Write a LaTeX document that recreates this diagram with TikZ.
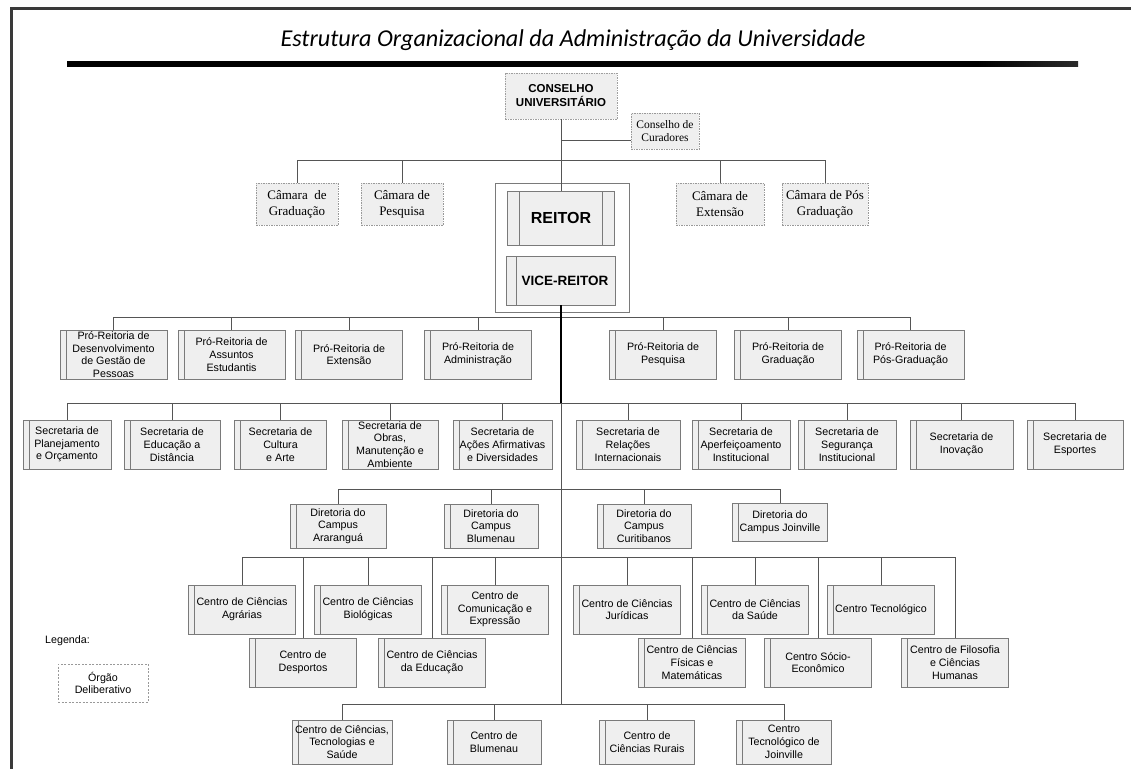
\documentclass[tikz,border=0pt]{standalone}
\usepackage{fontspec}
\setmainfont{Liberation Sans}
\newfontfamily\timesf{Liberation Serif}
\newfontfamily\calib{Carlito}
\usepackage{graphicx}
\pgfdeclarehorizontalshading{barshade}{100bp}{color(0bp)=(black); color(70bp)=(black); color(100bp)=(white)}
\definecolor{boxline}{HTML}{7A7A7A}
\definecolor{boxfill}{HTML}{EFEFEF}
\definecolor{conncol}{HTML}{555555}
\definecolor{framec}{HTML}{3A3A3A}
\tikzset{
  unit/.style={draw=boxline, fill=boxfill, line width=0.6pt, minimum width=#1, minimum height=49pt,
    inner sep=0pt, align=center, font=\fontsize{10.7}{12.7}\selectfont,
    path picture={\draw[boxline,line width=0.6pt] ([xshift=6pt]path picture bounding box.north west) -- ([xshift=6pt]path picture bounding box.south west);}},
  unit/.default=107pt,
  delib/.style={draw=gray!80, fill=boxfill, line width=0.6pt, dash pattern=on 1.5pt off 1pt,
    minimum width=#1, minimum height=42pt, inner sep=0pt, align=center,
    font=\timesf\fontsize{13}{16}\selectfont},
  delib/.default=82pt,
  conn/.style={draw=conncol, line width=0.7pt},
  trunk/.style={draw=black, line width=2.4pt},
}
\begin{document}
\begin{tikzpicture}[x=1pt,y=-1pt]
\useasboundingbox (0,0) rectangle (1131,769);
% frame
\draw[framec, line width=3pt] (1131,8) -- (11,8) -- (11,769);
% title
\node (title) at (573,40) {\resizebox{585pt}{!}{\calib\itshape Estrutura Organizacional da Administração da Universidade}};
\shade[shading=barshade] (67,61) rectangle (1078,66);

% top
\node[draw=gray!75, fill=boxfill, line width=0.6pt, dash pattern=on 1.5pt off 1pt, minimum width=112pt,
  minimum height=46pt, inner sep=0pt, align=center, font=\bfseries\fontsize{11.5}{14}\selectfont] (cu) at (561,96) {CONSELHO\\UNIVERSITÁRIO};
\node[delib=68pt, minimum height=36pt, font=\timesf\fontsize{11.5}{13.5}\selectfont] (cur) at (665,131) {Conselho de\\Curadores};

\node[delib] (cam1) at (297,204) {Câmara\ \ de\\Graduação};
\node[delib] (cam2) at (402,204) {Câmara de\\Pesquisa};
\node[delib=88pt] (cam3) at (720,204) {Câmara de\\Extensão};
\node[delib=86pt] (cam4) at (825,204) {Câmara de Pós\\Graduação};

\node[draw=boxline, line width=0.7pt, minimum width=134pt, minimum height=129pt, inner sep=0pt] (reit) at (562,247.5) {};
\node[draw=boxline, fill=boxfill, line width=0.6pt, minimum width=107pt, minimum height=54pt, inner sep=0pt,
  font=\bfseries\fontsize{16}{19}\selectfont,
  path picture={\draw[boxline,line width=0.6pt] ([xshift=12pt]path picture bounding box.north west) -- ([xshift=12pt]path picture bounding box.south west);
    \draw[boxline,line width=0.6pt] ([xshift=-12pt]path picture bounding box.north east) -- ([xshift=-12pt]path picture bounding box.south east);}] (reitor) at (561,218) {REITOR};
\node[draw=boxline, fill=boxfill, line width=0.6pt, minimum width=109pt, minimum height=49pt, inner sep=0pt,
  font=\bfseries\fontsize{13.5}{16}\selectfont,
  path picture={\draw[boxline,line width=0.6pt] ([xshift=10pt]path picture bounding box.north west) -- ([xshift=10pt]path picture bounding box.south west);}] (vice) at (561,280.5) {\hspace*{8pt}VICE-REITOR};

% Pro-Reitorias
\node[unit] (pr1) at (113.5,354.5) {Pró-Reitoria de\\Desenvolvimento\\de Gestão de\\Pessoas};
\node[unit] (pr2) at (231.5,354.5) {Pró-Reitoria de\\Assuntos\\Estudantis};
\node[unit] (pr3) at (349,354.5) {Pró-Reitoria de\\Extensão};
\node[unit] (pr4) at (478,354.5) {Pró-Reitoria de\\Administração};
\node[unit] (pr5) at (663,354.5) {Pró-Reitoria de\\Pesquisa};
\node[unit] (pr6) at (788,354.5) {Pró-Reitoria de\\Graduação};
\node[unit] (pr7) at (910.5,354.5) {Pró-Reitoria de\\Pós-Graduação};

% Secretarias
\node[unit=88pt] (s1) at (67,444.5) {Secretaria de\\Planejamento\\e Orçamento};
\node[unit=96pt] (s2) at (172,444.5) {Secretaria de\\Educação a\\Distância};
\node[unit=92pt] (s3) at (280.5,444.5) {Secretaria de\\Cultura\\e Arte};
\node[unit=96pt] (s4) at (390,444.5) {Secretaria de\\Obras,\\Manutenção e\\Ambiente};
\node[unit=99pt] (s5) at (502.5,444.5) {Secretaria de\\Ações Afirmativas\\e Diversidades};
\node[unit=104pt] (s6) at (628,444.5) {Secretaria de\\Relações\\Internacionais};
\node[unit=98pt] (s7) at (741,444.5) {Secretaria de\\Aperfeiçoamento\\Institucional};
\node[unit=98pt] (s8) at (847,444.5) {Secretaria de\\Segurança\\Institucional};
\node[unit=103pt] (s9) at (961.5,444.5) {Secretaria de\\Inovação};
\node[unit=96pt] (s10) at (1075,444.5) {Secretaria de\\Esportes};

% Diretorias
\node[unit=96pt, minimum height=44pt] (d1) at (338,526) {Diretoria do\\Campus\\Araranguá};
\node[unit=94pt, minimum height=44pt] (d2) at (491,526) {Diretoria do\\Campus\\Blumenau};
\node[unit=94pt, minimum height=44pt] (d3) at (644,526) {Diretoria do\\Campus\\Curitibanos};
\node[unit=95pt, minimum height=38pt] (d4) at (780,522) {Diretoria do\\Campus Joinville};

% Centros row A
\node[unit] (ca) at (242,609.5) {Centro de Ciências\\Agrárias};
\node[unit] (cb) at (368,609.5) {Centro de Ciências\\Biológicas};
\node[unit] (cc) at (495,609.5) {Centro de\\Comunicação e\\Expressão};
\node[unit] (cj) at (627,609.5) {Centro de Ciências\\Jurídicas};
\node[unit] (cs) at (755,609.5) {Centro de Ciências\\da Saúde};
\node[unit] (ct) at (881,609.5) {Centro Tecnológico};
% row B
\node[unit] (cd) at (303,662.5) {Centro de\\Desportos};
\node[unit] (ce) at (432,662.5) {Centro de Ciências\\da Educação};
\node[unit] (cf) at (692,662.5) {Centro de Ciências\\Físicas e\\Matemáticas};
\node[unit] (cse) at (818,662.5) {Centro Sócio-\\Econômico};
\node[unit] (cfil) at (955,662.5) {Centro de Filosofia\\e Ciências\\Humanas};
% bottom
\node[unit=100pt, minimum height=44pt] (b1) at (342,742) {Centro de Ciências,\\Tecnologias e\\Saúde};
\node[unit=94pt, minimum height=44pt] (b2) at (494,742) {Centro de\\Blumenau};
\node[unit=95pt, minimum height=44pt] (b3) at (647,742) {Centro de\\Ciências Rurais};
\node[unit=95pt, minimum height=44pt] (b4) at (784,742) {Centro\\Tecnológico de\\Joinville};

% legend
\node[anchor=west, font=\fontsize{10.7}{12.7}\selectfont, inner sep=0pt] (leg) at (45,641) {Legenda:};
\node[draw=gray!80, line width=0.6pt, dash pattern=on 2pt off 1.5pt, minimum width=90pt, minimum height=38pt,
  inner sep=0pt, align=center, font=\fontsize{10.7}{12.7}\selectfont] (legbox) at (103,683) {Órgão\\Deliberativo};

% bus coordinates
\coordinate (curj) at (561,140);
\coordinate (cambus) at (561,160);
\coordinate (prbus) at (561,317);
\coordinate (secbus) at (561,403);
\coordinate (dirbus) at (561,489);
\coordinate (cbus) at (561,557);
\coordinate (botbus) at (561,704);

% connectors top
\draw[conn] (cu.south) -- (reitor.north);
\draw[conn] (cur.west |- curj) -- (curj);
\draw[conn] (cam1.north |- cambus) -- (cam4.north |- cambus);
\foreach \n in {cam1,cam2,cam3,cam4} \draw[conn] (\n.north) -- (\n.north |- cambus);

% buses
\draw[conn] (pr1.north |- prbus) -- (pr7.north |- prbus);
\foreach \n in {pr1,pr2,pr3,pr4,pr5,pr6,pr7} \draw[conn] (\n.north) -- (\n.north |- prbus);
\draw[conn] (s1.north |- secbus) -- (s10.north |- secbus);
\foreach \n in {s1,s2,s3,s4,s5,s6,s7,s8,s9,s10} \draw[conn] (\n.north) -- (\n.north |- secbus);
\draw[conn] (d1.north |- dirbus) -- (d4.north |- dirbus);
\foreach \n in {d1,d2,d3,d4} \draw[conn] (\n.north) -- (\n.north |- dirbus);
\draw[conn] (ca.north |- cbus) -- (cfil.north |- cbus);
\foreach \n in {ca,cb,cc,cj,cs,ct,cd,ce,cf,cse,cfil} \draw[conn] (\n.north) -- (\n.north |- cbus);
\draw[conn] (b1.north |- botbus) -- (b4.north |- botbus);
\foreach \n in {b1,b2,b3,b4} \draw[conn] (\n.north) -- (\n.north |- botbus);

% trunk
\draw[conn] (vice.south |- secbus) -- (vice.south |- botbus);
\draw[trunk] (vice.south) -- (vice.south |- secbus);
\end{tikzpicture}
\end{document}
